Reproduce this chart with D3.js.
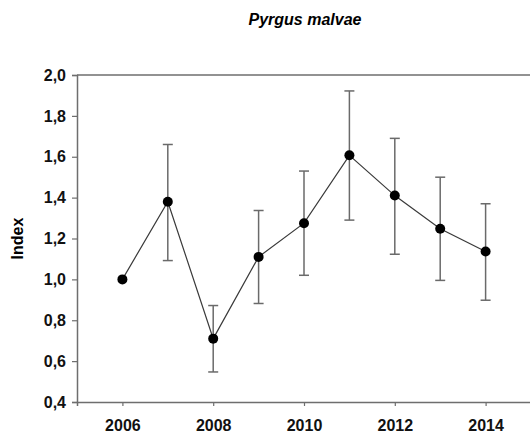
<!DOCTYPE html>
<html>
<head>
<meta charset="utf-8">
<script src="https://cdn.jsdelivr.net/npm/d3@7"></script>
<style>
  body { margin: 0; background: #fff; }
  text { font-family: "Liberation Sans", Arial, sans-serif; }
</style>
</head>
<body>
<div id="chart"></div>
<script>
// Yearly index values for Pyrgus malvae (2006 = 1,0)
var years  = [2006, 2007, 2008, 2009, 2010, 2011, 2012, 2013, 2014];
var index  = [1.00, 1.38, 0.71, 1.11, 1.275, 1.607, 1.41, 1.248, 1.136];
var upper  = [null, 1.66, 0.872, 1.337, 1.53, 1.922, 1.69, 1.50, 1.37];
var lower  = [null, 1.092, 0.547, 0.882, 1.02, 1.29, 1.123, 0.995, 0.898];
var xTicks = [2006, 2008, 2010, 2012, 2014];
var yTicks = [0.4, 0.6, 0.8, 1.0, 1.2, 1.4, 1.6, 1.8, 2.0];

var width = 530, height = 437;
var margin = { top: 75, left: 77, bottom: 35 };

var svg = d3.select('#chart').append('svg')
    .attr('width', width)
    .attr('height', height);

var x = d3.scaleLinear().domain([2005, 2015]).range([margin.left, 531]);
var y = d3.scaleLinear().domain([0.4, 2.0]).range([402, margin.top]);

var fmt = function(d) { return d.toFixed(1).replace('.', ','); };
var axisColor = '#6e6e6e';

// top frame line
svg.append('line')
    .attr('x1', x(2005)).attr('x2', x(2015))
    .attr('y1', y(2.0)).attr('y2', y(2.0))
    .style('stroke', axisColor).style('stroke-width', 1.5);

var yAxis = svg.append('g')
    .attr('transform', 'translate(' + margin.left + ',0)')
    .call(d3.axisLeft(y).tickValues(yTicks).tickFormat(fmt).tickSize(5).tickPadding(6));

var xAxis = svg.append('g')
    .attr('transform', 'translate(0,' + y(0.4) + ')')
    .call(d3.axisBottom(x).tickValues(xTicks).tickFormat(d3.format('d')).tickSize(4).tickPadding(14));

[yAxis, xAxis].forEach(function(g) {
    g.select('.domain').style('stroke', axisColor).style('stroke-width', 1.5);
    g.selectAll('.tick line').style('stroke', axisColor).style('stroke-width', 1.2);
    g.selectAll('.tick text')
        .style('font-size', '16px')
        .style('font-weight', 'bold')
        .style('fill', '#111');
});

// error bars
var data = years.map(function(yr, i) {
    return { year: yr, v: index[i], hi: upper[i], lo: lower[i] };
});
var bars = data.filter(function(d) { return d.hi !== null; });
var capW = 5;

var eb = svg.append('g').attr('class', 'errorbars')
    .style('stroke', '#6a6a6a').style('stroke-width', 1.5);
eb.selectAll('line.v').data(bars).enter().append('line')
    .attr('x1', function(d) { return x(d.year); })
    .attr('x2', function(d) { return x(d.year); })
    .attr('y1', function(d) { return y(d.hi); })
    .attr('y2', function(d) { return y(d.lo); });
eb.selectAll('line.hi').data(bars).enter().append('line')
    .attr('x1', function(d) { return x(d.year) - capW; })
    .attr('x2', function(d) { return x(d.year) + capW; })
    .attr('y1', function(d) { return y(d.hi); })
    .attr('y2', function(d) { return y(d.hi); });
eb.selectAll('line.lo').data(bars).enter().append('line')
    .attr('x1', function(d) { return x(d.year) - capW; })
    .attr('x2', function(d) { return x(d.year) + capW; })
    .attr('y1', function(d) { return y(d.lo); })
    .attr('y2', function(d) { return y(d.lo); });

// connecting line
var line = d3.line()
    .x(function(d) { return x(d.year); })
    .y(function(d) { return y(d.v); });
svg.append('path')
    .datum(data)
    .attr('d', line)
    .style('fill', 'none')
    .style('stroke', '#3a3a3a')
    .style('stroke-width', 1.2);

svg.selectAll('circle.pt').data(data).enter().append('circle')
    .attr('class', 'pt')
    .attr('cx', function(d) { return x(d.year); })
    .attr('cy', function(d) { return y(d.v); })
    .attr('r', 5)
    .style('fill', '#000');

// title and axis label
svg.append('text')
    .attr('x', 305).attr('y', 25)
    .attr('text-anchor', 'middle')
    .style('font-size', '16px')
    .style('font-weight', 'bold')
    .style('font-style', 'italic')
    .text('Pyrgus malvae');

svg.append('text')
    .attr('transform', 'translate(23,' + ((y(0.4) + y(2.0)) / 2) + ') rotate(-90)')
    .attr('text-anchor', 'middle')
    .style('font-size', '16px')
    .style('font-weight', 'bold')
    .text('Index');
</script>
</body>
</html>
